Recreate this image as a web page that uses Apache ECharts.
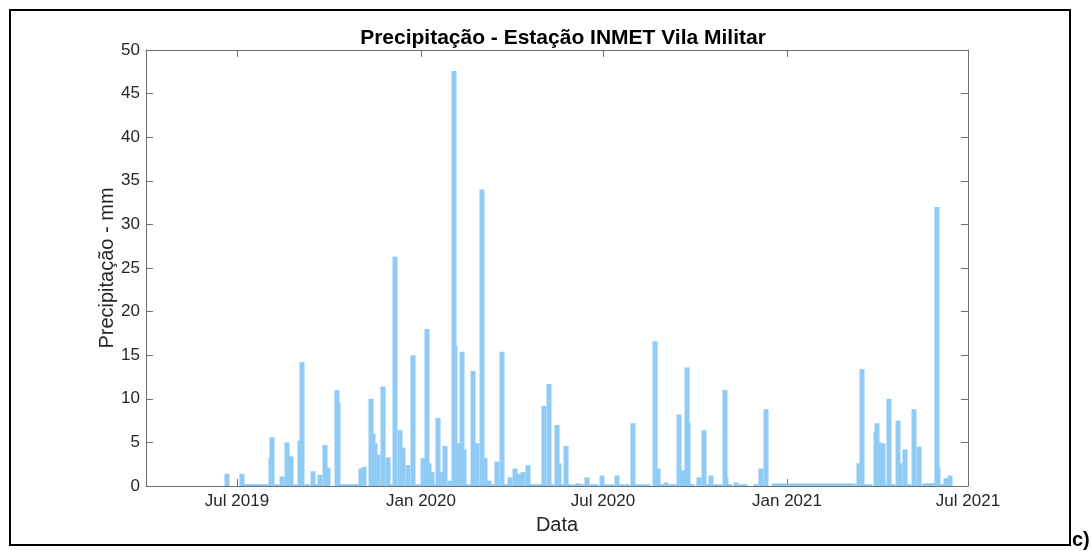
<!DOCTYPE html>
<html>
<head>
<meta charset="utf-8">
<script src="https://cdn.jsdelivr.net/npm/echarts@6/dist/echarts.min.js"></script>
<style>
  html, body { margin: 0; padding: 0; background: #fff; }
  #chart { width: 1092px; height: 551px; }
</style>
</head>
<body>
<div id="chart"></div>
<script>
// Chuva diária (mm) - Estação INMET Vila Militar
const datas = [
  '2019-06-21','2019-07-06',
  '2019-07-09','2019-07-11','2019-07-13','2019-07-15','2019-07-17','2019-07-19',
  '2019-07-21','2019-07-23','2019-07-25','2019-07-27','2019-07-29','2019-07-31',
  '2019-08-04','2019-08-05','2019-08-10','2019-08-15','2019-08-20','2019-08-24','2019-08-28',
  '2019-09-02','2019-09-04','2019-09-09','2019-09-15','2019-09-19','2019-09-22','2019-09-27','2019-09-30',
  '2019-10-09','2019-10-10','2019-10-14','2019-10-17','2019-10-20','2019-10-23','2019-10-26','2019-10-29',
  '2019-11-02','2019-11-05','2019-11-12','2019-11-14','2019-11-16','2019-11-19','2019-11-24','2019-11-29',
  '2019-12-01','2019-12-06','2019-12-11','2019-12-14','2019-12-19','2019-12-24','2019-12-29',
  '2020-01-03','2020-01-07','2020-01-09','2020-01-12','2020-01-14','2020-01-18','2020-01-21','2020-01-25','2020-01-30',
  '2020-02-03','2020-02-04','2020-02-07','2020-02-11','2020-02-13','2020-02-17','2020-02-22','2020-02-26',
  '2020-03-02','2020-03-05','2020-03-09','2020-03-12','2020-03-17','2020-03-22','2020-03-26','2020-03-30',
  '2020-04-04','2020-04-08','2020-04-12','2020-04-17','2020-04-21','2020-04-25','2020-04-29',
  '2020-05-03','2020-05-08','2020-05-12','2020-05-16','2020-05-18','2020-05-21','2020-05-25','2020-05-29',
  '2020-06-03','2020-06-06','2020-06-10','2020-06-15','2020-06-20','2020-06-24','2020-06-30',
  '2020-07-05','2020-07-10','2020-07-15','2020-07-20','2020-07-25','2020-07-31',
  '2020-08-05','2020-08-10','2020-08-15','2020-08-22','2020-08-25','2020-08-29',
  '2020-09-02','2020-09-06','2020-09-10','2020-09-15','2020-09-19','2020-09-23','2020-09-24','2020-09-28',
  '2020-10-05','2020-10-10','2020-10-14','2020-10-17','2020-10-22','2020-10-26','2020-10-31',
  '2020-11-01','2020-11-05','2020-11-11','2020-11-16','2020-11-20',
  '2020-12-01','2020-12-06','2020-12-11',
  '2021-03-14','2021-03-17','2021-03-21','2021-03-25','2021-03-31',
  '2021-04-01','2021-04-03','2021-04-07','2021-04-10','2021-04-13','2021-04-17','2021-04-22','2021-04-24','2021-04-29',
  '2021-05-03','2021-05-08','2021-05-13','2021-05-17','2021-05-20','2021-05-23','2021-05-26','2021-05-28','2021-05-31',
  '2021-06-01','2021-06-05','2021-06-09','2021-06-13'
];
const chuvaMm = [
  1.4, 1.4,
  0.2, 0.2, 0.2, 0.2, 0.2, 0.2,
  0.2, 0.2, 0.2, 0.2, 0.2, 0.2,
  3.3, 5.6, 0.2, 1.1, 5.0, 3.4, 0.2,
  5.2, 14.2, 0.2, 1.7, 0.2, 1.3, 4.7, 2.1,
  11.0, 9.5, 0.2, 0.2, 0.2, 0.2, 0.2, 0.2,
  2.0, 2.2, 10.0, 6.0, 4.9, 3.6, 11.4, 3.3,
  0.2, 26.3, 6.4, 4.4, 2.4, 15.0, 0.2,
  3.2, 18.0, 2.6, 1.6, 0.2, 7.8, 1.6, 4.6, 0.6,
  47.6, 16.1, 4.9, 15.4, 4.2, 0.2, 13.2, 4.9,
  34.0, 3.2, 0.6, 0.2, 2.8, 15.4, 0.2, 1.0,
  2.0, 1.4, 1.6, 2.4, 0.2, 0.2, 0.2,
  9.2, 11.7, 0.2, 7.0, 2.6, 0.2, 4.6, 0.2,
  0.2, 0.3, 0.2, 1.0, 0.2, 0.2, 1.2,
  0.2, 0.2, 1.2, 0.2, 0.2, 7.2,
  0.2, 0.2, 0.2, 16.6, 2.0, 0.2,
  0.4, 0.2, 0.2, 8.2, 1.8, 13.6, 7.3, 0.2,
  1.0, 6.4, 0.2, 1.2, 0.2, 0.2, 11.0,
  1.0, 0.2, 0.4, 0.2, 0.2,
  0.2, 2.0, 8.8,
  2.6, 13.4, 0.2, 0.2, 6.2,
  7.2, 5.0, 4.9, 0.2, 10.0, 0.2, 7.5, 2.6, 4.2,
  0.2, 8.8, 4.5, 0.2, 0.3, 0.3, 0.3, 0.3, 32.0,
  2.0, 0.2, 0.9, 1.2
];
// Registros diários consecutivos a partir de 19/12/2020 (período seco)
const secoInicio = '2020-12-19';
const secoMm = [
  0.25, 0.25, 0.25, 0.25, 0.25, 0.25, 0.25, 0.25, 0.25, 0.25, 0.25, 0.25, 0.25,
  0.25, 0.25, 0.25, 0.25, 0.25, 0.25, 0.25, 0.25, 0.25, 0.25, 0.25, 0.25, 0.25,
  0.25, 0.25, 0.25, 0.25, 0.25, 0.25, 0.25, 0.25, 0.25, 0.25, 0.25, 0.25, 0.25,
  0.25, 0.25, 0.25, 0.25, 0.25, 0.25, 0.25, 0.25, 0.25, 0.25, 0.25, 0.25, 0.25,
  0.25, 0.25, 0.25, 0.25, 0.25, 0.25, 0.25, 0.25, 0.25, 0.25, 0.25, 0.25, 0.25,
  0.25, 0.25, 0.25, 0.25, 0.25, 0.25, 0.25, 0.25, 0.25, 0.25, 0.25, 0.25, 0.25,
  0.25, 0.25, 0.25
];
// Marcas do eixo de datas
const tickDatas = ['2019-07-01', '2020-01-01', '2020-07-01', '2021-01-01', '2021-07-01'];
const tickRotulos = ['Jul 2019', 'Jan 2020', 'Jul 2020', 'Jan 2021', 'Jul 2021'];
const eixoInicio = '2019-04-01';
const eixoFim = '2021-07-01';

function ts(s) {
  const [y, m, d] = s.split('-').map(Number);
  return Date.UTC(y, m - 1, d);
}

const serie = datas.map((d, i) => [ts(d), chuvaMm[i]]);
const t0 = ts(secoInicio);
secoMm.forEach((v, i) => {
  serie.push([t0 + i * 86400000, v]);
});

const tickTs = tickDatas.map(ts);
const rotuloPorTs = {};
tickTs.forEach((t, i) => { rotuloPorTs[t] = tickRotulos[i]; });

const FONT = '"Liberation Sans", Arial, Helvetica, sans-serif';
const AXIS_COLOR = '#6e6e6e';
const TEXT_COLOR = '#262626';

const chart = echarts.init(document.getElementById('chart'), null, { renderer: 'canvas' });

function eixoX(extra) {
  return Object.assign({
    type: 'value',
    min: ts(eixoInicio),
    max: ts(eixoFim),
    scale: true,
    axisLine: { show: true, onZero: false, lineStyle: { color: AXIS_COLOR, width: 1 } },
    splitLine: { show: false },
    axisTick: { show: true, inside: true, length: 7, customValues: tickTs, lineStyle: { color: AXIS_COLOR } }
  }, extra);
}

chart.setOption({
  animation: false,
  backgroundColor: '#ffffff',
  title: {
    text: 'Precipitação - Estação INMET Vila Militar',
    left: 558,
    top: 23,
    textAlign: 'center',
    textStyle: { fontFamily: FONT, fontSize: 21, fontWeight: 'bold', color: '#000' }
  },
  grid: { left: 146, top: 50, width: 822, height: 436, containLabel: false },
  xAxis: [
    eixoX({
      position: 'bottom',
      name: 'Data',
      nameLocation: 'middle',
      nameGap: 29,
      nameTextStyle: { fontFamily: FONT, fontSize: 20, color: TEXT_COLOR },
      axisLabel: {
        show: true,
        customValues: tickTs,
        margin: 7,
        fontFamily: FONT,
        fontSize: 17,
        color: TEXT_COLOR,
        formatter: v => rotuloPorTs[v] || ''
      }
    }),
    eixoX({ position: 'top', axisLabel: { show: false } })
  ],
  yAxis: [
    {
      type: 'value',
      min: 0, max: 50, interval: 5,
      position: 'left',
      name: 'Precipitação - mm',
      nameLocation: 'middle',
      nameGap: 29,
      nameMoveOverlap: false,
      nameTextStyle: { fontFamily: FONT, fontSize: 20, color: TEXT_COLOR },
      axisLine: { show: true, lineStyle: { color: AXIS_COLOR } },
      axisTick: { show: true, inside: true, length: 7, lineStyle: { color: AXIS_COLOR } },
      splitLine: { show: false },
      axisLabel: { fontFamily: FONT, fontSize: 17, color: TEXT_COLOR, margin: 6 }
    },
    {
      type: 'value',
      min: 0, max: 50, interval: 5,
      position: 'right',
      axisLine: { show: true, lineStyle: { color: AXIS_COLOR } },
      axisTick: { show: true, inside: true, length: 7, lineStyle: { color: AXIS_COLOR } },
      splitLine: { show: false },
      axisLabel: { show: false }
    }
  ],
  series: [{
    type: 'bar',
    xAxisIndex: 0,
    yAxisIndex: 0,
    data: serie,
    barWidth: 5,
    itemStyle: { color: '#8fcbf5' },
    emphasis: { disabled: true }
  }],
  graphic: [
    {
      type: 'rect',
      shape: { x: 10, y: 10, width: 1060, height: 535 },
      style: { fill: 'none', stroke: '#000', lineWidth: 2 },
      silent: true
    },
    {
      type: 'text',
      x: 1072, y: 550,
      style: { text: 'c)', fontFamily: FONT, fontSize: 20, fontWeight: 'bold', fill: '#000', textVerticalAlign: 'bottom' },
      silent: true
    }
  ]
});
</script>
</body>
</html>
